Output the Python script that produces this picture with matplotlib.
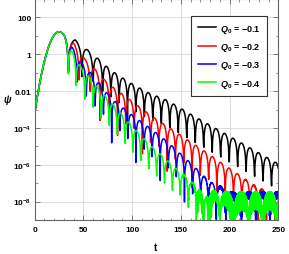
import numpy as np
import matplotlib
matplotlib.use('Agg')
import matplotlib.pyplot as plt
from matplotlib.ticker import FixedLocator, FixedFormatter, NullFormatter

plt.rcParams['font.family'] = ['Liberation Sans', 'DejaVu Sans']
plt.rcParams['font.weight'] = 'bold'
plt.rcParams['mathtext.fontset'] = 'custom'
plt.rcParams['mathtext.rm'] = 'Liberation Sans:bold'
plt.rcParams['mathtext.it'] = 'Liberation Sans:bold:italic'
plt.rcParams['mathtext.bf'] = 'Liberation Sans:bold'
plt.rcParams['mathtext.default'] = 'rm'

# ---------------- data ----------------
series_labels = [r'$\mathit{Q}_{0}$ = −0.1', r'$\mathit{Q}_{0}$ = −0.2',
                 r'$\mathit{Q}_{0}$ = −0.3', r'$\mathit{Q}_{0}$ = −0.4']
series_colors = ['#000000', '#ff0000', '#0000ff', '#00ff00']

# initial pulse (common to all series): start, peak, first dip
pulse_t = [0, 25, 34.5]
pulse_log = [-3.2, 1.22, 0.58]

# times of the zeros (dips) of the ring-down
black_dips = [34.5, 48.5, 60.0, 69.8, 78.2, 86.6, 95.2, 103.8, 112.5, 121.2, 129.9,
              138.6, 147.3, 156.0, 164.7, 173.4, 182.1, 190.8, 199.5, 208.2, 216.9,
              225.6, 234.3, 243.0, 251.7]
red_dips = [34.5, 45.5, 57.0, 67.0, 76.5, 85.0, 93.5, 102.0, 110.5, 119.0, 127.5,
            136.0, 144.5, 153.0, 161.5, 170.0, 178.5, 187.0, 195.5, 204.0, 212.5,
            221.0, 229.5, 238.0, 246.5, 255.0]
blue_dips = [34.5, 43.5, 53.0, 62.0, 70.5, 79.0, 87.3, 95.6, 103.9, 112.2, 120.5,
             128.8, 137.1, 145.4, 153.7, 162.0, 170.3, 178.6, 186.9, 195.2, 203.5,
             211.8, 220.1, 228.4, 236.7, 245.0, 253.3]
green_dips = [34.5, 42.5, 51.5, 60.0, 68.3, 76.5, 84.6, 92.7, 100.8, 108.9, 117.0,
              125.1, 133.2, 141.3, 149.4, 157.5, 165.6, 173.7, 181.8, 189.9, 198.0,
              206.1, 214.2, 222.3, 230.4, 238.5, 246.6, 254.7]

# peak envelope of the ring-down, log10(psi)
black_env_t = [34.5, 41.5, 54, 65, 74, 82, 98, 117, 136, 160, 200, 250]
black_env_log = [0.7, 0.78, 0.24, -0.24, -0.67, -1.0, -1.55, -2.1, -2.5, -3.25, -4.45, -5.95]
red_env_t = [34.5, 40, 51.5, 62, 72, 81, 100, 120, 137, 170, 200, 231, 250]
red_env_log = [0.6, 0.6, -0.27, -0.82, -1.4, -1.82, -2.55, -3.35, -3.95, -5.1, -6.2, -7.3, -7.95]
blue_env_t = [34.5, 38, 48, 58, 68, 80, 100, 120, 136, 160, 192, 250]
blue_env_log = [0.42, 0.42, -0.45, -1.05, -1.7, -2.45, -3.3, -4.07, -4.73, -5.9, -7.5, -10.3]
green_env_t = [34.5, 36.5, 47, 57, 67, 81, 100, 120, 136, 150, 170, 250]
green_env_log = [0.3, 0.3, -0.65, -1.3, -1.95, -2.75, -3.9, -5.0, -5.75, -6.45, -7.35, -11.0]

# numerical noise floor: level (log10), zeros of its slow arches, fill depth (log10)
red_floor_level, red_floor_zeros, red_floor_depth = -7.9, [192.5, 207, 221.5, 236, 250.5, 265], -1.0
blue_floor_level, blue_floor_zeros, blue_floor_depth = -7.45, [154.6, 169, 183.4, 197.5, 212, 226.8, 241.5, 256], -0.4
green_floor_level, green_floor_zeros, green_floor_depth = -7.45, [146.5, 161, 175, 190, 204.5, 219.5, 234, 248.5, 263], -1.0

fine_start = [250, 222, 172, 150]

# ---------------- build curves ----------------
def arches(t, zeros):
    out = np.zeros_like(t)
    for k in range(len(zeros) - 1):
        a, b = zeros[k], zeros[k + 1]
        m = (t >= a) & (t < b)
        out[m] = (-1) ** (k + 1) * np.sin(np.pi * (t[m] - a) / (b - a))
    return out

def build(dips, env_t, env_log, floor, fstart):
    t = np.concatenate([[0.0], np.arange(0.11, fstart, 0.3), np.arange(fstart + 0.013, 250.01, 0.08), [250.0]])
    lg = pulse_log[1] - (pulse_log[1] - pulse_log[0]) * ((t - pulse_t[1]) / pulse_t[1]) ** 2
    pulse = 10 ** lg
    pulse *= np.sin(np.pi / 2 * np.clip((pulse_t[2] - t) / 4.5, 0, 1))
    pulse[t >= pulse_t[2]] = 0
    ring = 10 ** np.interp(t, env_t, env_log) * arches(t, dips)
    ring[t < dips[0]] = 0
    sig = pulse + ring
    if floor is not None:
        level, zeros, depth = floor
        lo = 10 ** depth
        fast = (1 + lo) / 2 + (1 - lo) / 2 * np.cos(2 * np.pi * t / 0.62)
        fl = 10 ** level * arches(t, zeros) * fast
        fl[t < zeros[0]] = 0
        sig = sig + fl
    return t, np.abs(sig)

all_dips = [black_dips, red_dips, blue_dips, green_dips]
all_env_t = [black_env_t, red_env_t, blue_env_t, green_env_t]
all_env_log = [black_env_log, red_env_log, blue_env_log, green_env_log]
floors = [None,
          (red_floor_level, red_floor_zeros, red_floor_depth),
          (blue_floor_level, blue_floor_zeros, blue_floor_depth),
          (green_floor_level, green_floor_zeros, green_floor_depth)]

# ---------------- figure ----------------
fig = plt.figure(figsize=(2.89, 2.55), dpi=100)
ax = fig.add_axes([34.7 / 289, 1 - 221 / 255, 243.6 / 289, 221 / 255])

handles = []
for i in range(4):
    t, y = build(all_dips[i], all_env_t[i], all_env_log[i], floors[i], fine_start[i])
    h, = ax.plot(t, y, color=series_colors[i], lw=1.1, label=series_labels[i])
    handles.append(h)

ax.set_yscale('log')
ax.set_xlim(0, 250)
ax.set_ylim(1e-9, 1e3)

ax.xaxis.set_major_locator(FixedLocator([0, 50, 100, 150, 200, 250]))
ax.xaxis.set_major_formatter(FixedFormatter(['0', '50', '100', '150', '200', '250']))
ax.xaxis.set_minor_locator(FixedLocator(np.arange(0, 251, 10)))
ytick_vals = [1e-8, 1e-6, 1e-4, 1e-2, 1, 1e2]
ytick_labels = [r'$10^{-8}$', r'$10^{-6}$', r'$10^{-4}$', '0.01', '1', '100']
ax.yaxis.set_major_locator(FixedLocator(ytick_vals))
ax.yaxis.set_major_formatter(FixedFormatter(ytick_labels))
ax.yaxis.set_minor_locator(FixedLocator([1e-9, 1e-7, 1e-5, 1e-3, 1e-1, 10, 1e3]))
ax.yaxis.set_minor_formatter(NullFormatter())

frame_col = '#666666'
for s in ax.spines.values():
    s.set_color(frame_col)
    s.set_linewidth(0.8)
ax.tick_params(which='both', direction='in', top=True, right=True, color=frame_col,
               labelsize=6, labelcolor='black')
ax.tick_params(which='major', length=3.5, width=0.6)
ax.tick_params(which='minor', length=1.8, width=0.5)
ax.tick_params(axis='x', pad=4.5)
ax.tick_params(axis='y', pad=2.5)
for lab in ax.get_xticklabels() + ax.get_yticklabels():
    lab.set_fontweight('bold')

ax.grid(True, which='major', color='#dddddd', lw=0.7)
ax.set_axisbelow(True)

ax.text(-0.114, 0.548, 'ψ', transform=ax.transAxes, fontsize=7, style='italic',
        fontweight='bold', ha='center', va='center')
ax.text(0.496, -0.122, 't', transform=ax.transAxes, fontsize=7, fontweight='bold',
        ha='center', va='center')

leg = ax.legend(handles=handles, loc='upper right', bbox_to_anchor=(0.955, 0.922),
                frameon=True, fancybox=False, handlelength=2.0,
                handletextpad=0.5, labelspacing=0.7, borderpad=0.7,
                borderaxespad=0.0, prop={'weight': 'bold', 'size': 6.5})
leg.get_frame().set_edgecolor('#333333')
leg.get_frame().set_linewidth(0.8)
leg.get_frame().set_alpha(1)

fig.savefig('out.png', dpi=100)
